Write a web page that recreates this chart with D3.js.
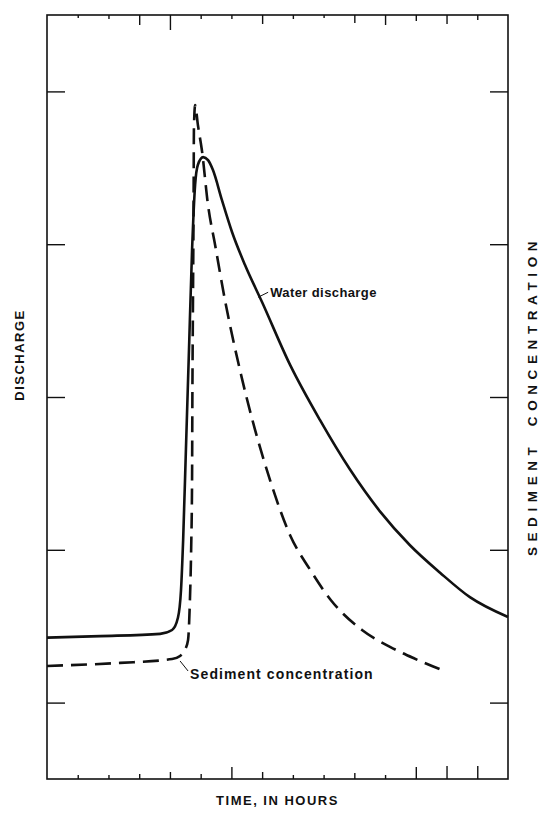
<!DOCTYPE html>
<html>
<head>
<meta charset="utf-8">
<script src="https://cdn.jsdelivr.net/npm/d3@7"></script>
<style>
  html, body { margin: 0; padding: 0; background: #fff; }
  svg text { font-family: "Liberation Sans", Arial, sans-serif; font-weight: bold; fill: #111; }
</style>
</head>
<body>
<svg id="chart" width="543" height="813"></svg>
<script>
// Storm hydrograph: water discharge and sediment concentration against time
const waterTime  = [0, 1.73, 3.68, 4.07, 4.26, 4.36, 4.43, 4.52, 4.62, 4.72, 4.82, 4.91, 5.08, 5.24, 5.40, 5.69, 6.02, 6.44, 7.00, 7.91, 8.88, 9.86, 10.84, 11.81, 12.79, 13.76, 15];
const waterValue = [1.85, 1.87, 1.90, 1.95, 2.11, 2.47, 3.13, 4.31, 5.62, 6.92, 7.78, 8.04, 8.14, 8.10, 7.97, 7.58, 7.16, 6.73, 6.24, 5.42, 4.70, 4.05, 3.50, 3.06, 2.70, 2.38, 2.12];

const sedTime  = [0, 2.38, 4.07, 4.33, 4.49, 4.59, 4.65, 4.69, 4.72, 4.73, 4.75, 4.77, 4.78, 4.82, 4.91, 5.04, 5.24, 5.47, 5.79, 6.28, 6.77, 7.26, 7.91, 8.56, 9.24, 10.25, 11.16, 11.94, 12.95];
const sedValue = [1.48, 1.52, 1.57, 1.61, 1.69, 1.82, 2.34, 3.00, 3.91, 4.96, 6.27, 7.58, 8.50, 8.82, 8.56, 8.23, 7.51, 6.99, 6.27, 5.35, 4.57, 3.91, 3.19, 2.74, 2.34, 1.95, 1.73, 1.58, 1.41];

// Unlabelled tick positions on the time axis and both vertical axes
const timeTicks  = [1, 2, 3, 4, 5, 6, 7, 8, 9, 10, 11, 12, 13, 14];
const levelTicks = [1, 3, 5, 7, 9];

const labels = {
  yLeft: "DISCHARGE",
  yRight: "SEDIMENT CONCENTRATION",
  x: "TIME, IN HOURS",
  water: "Water discharge",
  sediment: "Sediment concentration"
};

// Hand-drafted tick lengths (the original plate has uneven ticks)
const topTickLen    = [3, 4, 10, 15, 4, 4, 9, 4, 3, 8, 10, 6, 9, 5];
const bottomTickLen = [4, 4, 5, 7, 5, 12, 7, 4, 4, 6, 4, 12, 13, 13];

const svg = d3.select("#chart");
const box = { left: 47, right: 508, top: 15, bottom: 779 };

const x = d3.scaleLinear().domain([0, 15]).range([box.left, box.right]);
const y = d3.scaleLinear().domain([0, 10]).range([box.bottom, box.top]);

const ink = "#111";

// Frame
svg.append("rect")
  .attr("x", box.left).attr("y", box.top)
  .attr("width", box.right - box.left).attr("height", box.bottom - box.top)
  .attr("fill", "none").attr("stroke", ink).attr("stroke-width", 1.6);

// Top and bottom time ticks, pointing into the frame
const topAxis = d3.axisTop(x).tickValues(timeTicks).tickFormat("").tickSizeOuter(0);
const gTop = svg.append("g").attr("transform", `translate(0,${box.top})`).call(topAxis);
gTop.selectAll(".tick line").attr("y2", (d, i) => topTickLen[i]);

const bottomAxis = d3.axisBottom(x).tickValues(timeTicks).tickFormat("").tickSizeOuter(0);
const gBottom = svg.append("g").attr("transform", `translate(0,${box.bottom})`).call(bottomAxis);
gBottom.selectAll(".tick line").attr("y2", (d, i) => -bottomTickLen[i]);

const leftAxis = d3.axisRight(y).tickValues(levelTicks).tickFormat("").tickSize(18).tickSizeOuter(0);
svg.append("g").attr("transform", `translate(${box.left},0)`).call(leftAxis);

const rightAxis = d3.axisLeft(y).tickValues(levelTicks).tickFormat("").tickSize(18).tickSizeOuter(0);
svg.append("g").attr("transform", `translate(${box.right},0)`).call(rightAxis);

svg.selectAll(".domain").remove();
svg.selectAll(".tick line").attr("stroke", ink).attr("stroke-width", 1.4);

// Curves
const line = d3.line()
  .x(d => x(d[0]))
  .y(d => y(d[1]))
  .curve(d3.curveMonotoneX);

svg.append("path")
  .datum(d3.zip(waterTime, waterValue))
  .attr("d", line)
  .attr("fill", "none").attr("stroke", ink).attr("stroke-width", 2.6)
  .attr("stroke-linejoin", "round");

svg.append("path")
  .datum(d3.zip(sedTime, sedValue))
  .attr("d", line)
  .attr("fill", "none").attr("stroke", ink).attr("stroke-width", 2.6)
  .attr("stroke-dasharray", "16,8");

// Curve labels with leaders
const wIdx = 18; // point on the falling limb used for the leader
svg.append("line")
  .attr("x1", x(waterTime[wIdx]) - 4).attr("y1", y(waterValue[wIdx]) - 5)
  .attr("x2", x(waterTime[wIdx]) + 6).attr("y2", y(waterValue[wIdx]) - 10)
  .attr("stroke", ink).attr("stroke-width", 1);
svg.append("text")
  .attr("x", x(waterTime[wIdx]) + 8).attr("y", y(waterValue[wIdx]) - 5)
  .attr("font-size", 13).attr("letter-spacing", 0.4)
  .text(labels.water);

const sIdx = 3; // corner where the sediment curve turns upward
svg.append("line")
  .attr("x1", x(sedTime[sIdx])).attr("y1", y(sedValue[sIdx]) + 5)
  .attr("x2", x(sedTime[sIdx]) + 8).attr("y2", y(sedValue[sIdx]) + 15)
  .attr("stroke", ink).attr("stroke-width", 1);
svg.append("text")
  .attr("x", x(sedTime[sIdx]) + 10).attr("y", y(sedValue[sIdx]) + 23)
  .attr("font-size", 14).attr("letter-spacing", 1.1)
  .text(labels.sediment);

// Axis titles
svg.append("text")
  .attr("transform", `translate(24,${(box.top + box.bottom) / 2 - 42}) rotate(-90)`)
  .attr("text-anchor", "middle").attr("font-size", 13).attr("letter-spacing", 1.5)
  .text(labels.yLeft);

svg.append("text")
  .attr("transform", `translate(537,${(box.top + box.bottom) / 2 - 1}) rotate(-90)`)
  .attr("text-anchor", "middle").attr("font-size", 13.5).attr("letter-spacing", 5.6)
  .attr("word-spacing", 6)
  .text(labels.yRight);

svg.append("text")
  .attr("x", (box.left + box.right) / 2).attr("y", 805)
  .attr("text-anchor", "middle").attr("font-size", 13).attr("letter-spacing", 1.5)
  .text(labels.x);
</script>
</body>
</html>
